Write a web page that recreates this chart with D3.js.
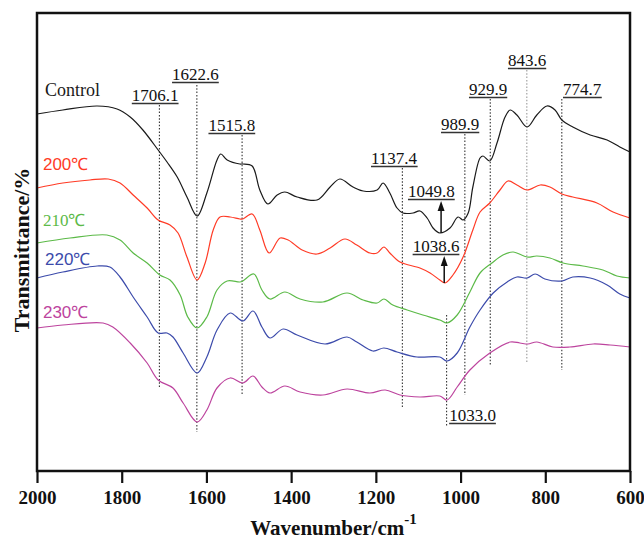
<!DOCTYPE html>
<html><head><meta charset="utf-8">
<script src="https://cdn.jsdelivr.net/npm/d3@7"></script>
<style>body{margin:0;background:#fff}</style></head>
<body>
<svg id="chart" width="644" height="542"></svg>
<script>
// ---- data (wavenumber cm-1, relative transmittance a.u.) ----
const seriesNames = ["Control", "200℃", "210℃", "220℃", "230℃"];

const controlWn = [2000,1939,1858,1811,1780,1750,1714,1693,1669,1646,1622,1599,1575,1566,1551,1521,1514,1492,1474,1455,1433,1415,1386,1339,1308,1285,1254,1230,1197,1183,1167,1150,1136,1112,1096,1079,1065,1049,1025,1006,994,982,971,954,947,931,914,895,883,867,843,820,796,777,761,735,694,654,624,600];
const controlT  = [35.7,36.1,36.5,36.2,35.4,34.1,32.1,30.9,29.4,27.4,25.5,27.8,31.1,31.7,31.1,30.7,30.7,30.5,28.1,26.7,27.6,27.9,27.4,27.1,28.4,29.2,28.4,28.0,28.1,28.8,27.8,26.3,25.8,25.8,26.0,25.3,24.3,23.8,24.3,25.4,25.1,25.8,28.4,31.3,31.5,31.0,32.8,35.4,36.1,35.6,34.4,35.6,36.5,36.1,35.1,34.4,33.6,33.1,32.4,31.9];

const t200Wn = [2000,1939,1875,1832,1804,1773,1740,1714,1686,1667,1646,1622,1603,1584,1568,1544,1521,1514,1492,1474,1452,1426,1407,1374,1339,1308,1273,1245,1214,1197,1181,1167,1143,1096,1072,1049,1037,1018,994,971,954,931,907,888,867,843,812,789,761,735,678,640,600];
const t200T  = [28.3,28.8,29.1,29.2,28.8,27.6,26.3,25.1,24.6,23.8,21.4,19.1,20.8,24.1,25.4,25.4,25.2,25.2,25.7,24.1,21.8,23.3,23.1,22.1,21.7,22.3,23.2,22.6,21.8,21.8,22.4,21.8,20.9,20.3,19.8,19.1,18.8,19.6,21.4,24.1,25.9,26.8,28.1,29.0,28.6,28.1,28.6,28.4,27.7,27.4,26.8,25.9,25.3];

const t210Wn = [2000,1922,1835,1804,1773,1740,1710,1686,1662,1644,1622,1599,1575,1551,1521,1514,1488,1469,1450,1415,1379,1325,1268,1230,1197,1181,1160,1126,1089,1049,1032,1008,978,954,926,900,876,843,820,789,758,711,664,631,600];
const t210T  = [22.8,23.3,23.6,23.1,21.8,20.8,19.6,19.1,17.6,15.4,14.3,15.4,18.1,19.0,18.9,19.0,19.7,18.1,17.2,17.9,17.2,16.9,17.8,17.1,16.8,17.2,16.6,16.1,15.6,15.1,14.8,15.6,17.9,19.8,20.8,21.6,21.9,21.4,21.5,21.3,20.8,20.5,20.1,19.5,19.3];

const t220Wn = [2000,1939,1858,1828,1804,1773,1740,1714,1693,1679,1655,1622,1599,1575,1544,1514,1490,1469,1450,1419,1386,1320,1268,1245,1207,1181,1150,1103,1049,1032,1008,978,954,923,890,867,843,824,801,761,735,694,654,624,600];
const t220T  = [19.3,19.9,20.5,20.4,19.4,17.4,15.4,13.8,13.8,13.4,11.8,9.8,11.4,14.1,15.8,15.0,16.0,14.4,13.3,14.2,13.6,12.7,13.4,12.9,12.0,12.3,11.9,11.4,11.4,11.0,11.8,14.4,16.1,17.8,18.9,19.4,19.3,19.7,19.2,19.0,19.4,19.3,18.6,17.7,17.3];

const t230Wn = [2000,1939,1844,1821,1780,1740,1714,1679,1655,1622,1599,1575,1544,1514,1490,1469,1450,1415,1379,1325,1268,1214,1178,1143,1096,1049,1032,1008,978,931,883,860,841,820,782,742,687,647,600];
const t230T  = [14.3,14.6,14.8,14.4,12.8,10.8,9.1,8.3,6.8,4.9,6.1,8.3,9.3,8.8,9.5,8.4,7.8,8.5,7.9,7.6,8.2,7.8,8.1,7.6,7.4,7.5,7.1,8.4,10.1,11.8,12.9,12.8,12.7,12.9,12.4,12.4,12.7,12.6,12.4];

const xTicks = [2000,1800,1600,1400,1200,1000,800,600];

// peak marker annotations (dotted guide lines)
const peakLabels  = ["1706.1","1622.6","1515.8","1137.4","989.9","929.9","843.6","774.7"];
const peakLineWn  = [1711,1622.6,1515.8,1137.4,989.9,929.9,843.6,761];
const peakLineTop = [36.6,38.6,33.6,30.3,33.7,37.2,40.1,37.2];
const peakLineBot = [8.3,3.9,7.6,6.3,7.6,10.6,10.9,10.1];
const peakTextWn  = [1721,1626,1540,1157,1001,935,843,713];
const peakTextT   = [37.0,39.1,34.0,30.7,34.1,37.6,40.5,37.6];

// arrow annotations
const arrowLabels = ["1049.8","1038.6"];
const arrowWn     = [1046,1038.6];
const arrowTipT   = [27.0,21.5];
const arrowTailT  = [23.8,18.8];
const arrowTextWn = [1069,1058];
const arrowTextT  = [27.4,21.9];

// bottom marker 1033.0
const markLabel = "1033.0";
const markWn = 1033.0, markTop = 15.6, markBot = 4.4, markTextWn = 1027, markTextT = 5.0;

// series label anchors
const seriesLabelWn = [1981,1986,1986,1981,1986];
const seriesLabelT  = [37.5,30.1,24.5,20.6,15.3];

// ---- drawing ----
const W = 644, H = 542;
const m = {left:37, right:14, top:13, bottom:71};
const colors = ["#1a1a1a","#ff3b26","#5cba48","#3c4bab","#bd449e"];
const seriesFonts = ["'Liberation Serif','Times New Roman',serif","'Liberation Sans',Arial,sans-serif","'Liberation Serif','Times New Roman',serif","'Liberation Sans',Arial,sans-serif","'Liberation Sans',Arial,sans-serif"];
const serif = "'Liberation Serif','Times New Roman',serif";

const svg = d3.select("#chart");
const x = d3.scaleLinear().domain([2000,600]).range([m.left, W-m.right]);
const y = d3.scaleLinear().domain([0,45.8]).range([H-m.bottom, m.top]);

const series = [
  {wn:controlWn, t:controlT},
  {wn:t200Wn, t:t200T},
  {wn:t210Wn, t:t210T},
  {wn:t220Wn, t:t220T},
  {wn:t230Wn, t:t230T}
];

const line = d3.line().x(d=>x(d[0])).y(d=>y(d[1])).curve(d3.curveCatmullRom.alpha(0.5));

// guide lines
const g = svg.append("g");
peakLabels.forEach((lab,i)=>{
  g.append("line")
    .attr("x1",x(peakLineWn[i])).attr("x2",x(peakLineWn[i]))
    .attr("y1",y(peakLineTop[i])).attr("y2",y(peakLineBot[i]))
    .attr("stroke", lab==="843.6" ? "#9a9a9a" : "#333")
    .attr("stroke-width",1.1).attr("stroke-dasharray","1.5,1.8");
});
g.append("line")
  .attr("x1",x(markWn)).attr("x2",x(markWn))
  .attr("y1",y(markTop)).attr("y2",y(markBot))
  .attr("stroke","#333").attr("stroke-width",1.1).attr("stroke-dasharray","1.5,1.8");

// curves
series.forEach((s,i)=>{
  svg.append("path")
    .datum(s.wn.map((w,j)=>[w,s.t[j]]))
    .attr("d",line)
    .attr("fill","none")
    .attr("stroke",colors[i])
    .attr("stroke-width",1.2);
});

// series labels
seriesNames.forEach((n,i)=>{
  svg.append("text")
    .attr("x",x(seriesLabelWn[i])).attr("y",y(seriesLabelT[i]))
    .attr("font-family",seriesFonts[i])
    .attr("font-size", i===0 ? 18 : 17)
    .attr("fill",colors[i])
    .text(n);
});

function underlinedText(cx, by, txt, anchor){
  const t = svg.append("text")
    .attr("x",cx).attr("y",by)
    .attr("text-anchor",anchor)
    .attr("font-family",serif).attr("font-size",17)
    .attr("fill","#111").text(txt);
  const bb = t.node().getBBox();
  svg.append("line")
    .attr("x1",bb.x).attr("x2",bb.x+bb.width)
    .attr("y1",by+2.5).attr("y2",by+2.5)
    .attr("stroke","#333").attr("stroke-width",1.3);
}

peakLabels.forEach((lab,i)=>{
  underlinedText(x(peakTextWn[i]), y(peakTextT[i]), lab, "middle");
});
arrowLabels.forEach((lab,i)=>{
  underlinedText(x(arrowTextWn[i]), y(arrowTextT[i]), lab, "middle");
  const ax = x(arrowWn[i]), tip = y(arrowTipT[i]), tail = y(arrowTailT[i]);
  svg.append("line").attr("x1",ax).attr("x2",ax).attr("y1",tip+6).attr("y2",tail)
    .attr("stroke","#111").attr("stroke-width",1.5);
  svg.append("path")
    .attr("d",`M${ax},${tip}L${ax-3.5},${tip+10}L${ax+3.5},${tip+10}Z`)
    .attr("fill","#111");
});
underlinedText(x(markTextWn), y(markTextT), markLabel, "start");

// frame
const fr = svg.append("g");
fr.append("rect")
  .attr("x",m.left).attr("y",m.top)
  .attr("width",W-m.left-m.right).attr("height",H-m.top-m.bottom)
  .attr("fill","none").attr("stroke","#111").attr("stroke-width",2.5);

// x axis
const xAxis = d3.axisBottom(x).tickValues(xTicks).tickSize(12).tickPadding(8).tickFormat(d3.format("d"));
const ax = svg.append("g").attr("transform",`translate(0,${H-m.bottom})`).call(xAxis);
ax.select(".domain").remove();
ax.selectAll(".tick line").attr("stroke","#111").attr("stroke-width",2.2);
ax.selectAll(".tick text")
  .attr("font-family",serif).attr("font-weight","bold").attr("font-size",19).attr("fill","#111");

// axis titles
const xt = svg.append("text")
  .attr("x", (m.left + W - m.right)/2).attr("y", 535)
  .attr("text-anchor","middle")
  .attr("font-family",serif).attr("font-weight","bold").attr("font-size",21).attr("fill","#111");
xt.append("tspan").text("Wavenumber/cm");
xt.append("tspan").attr("dy",-11).attr("font-size",15).text("-1");

svg.append("text")
  .attr("transform",`translate(29,${(m.top + H - m.bottom)/2 + 8}) rotate(-90)`)
  .attr("text-anchor","middle")
  .attr("font-family",serif).attr("font-weight","bold").attr("font-size",22).attr("fill","#111")
  .text("Transmittance/%");
</script>
</body></html>
